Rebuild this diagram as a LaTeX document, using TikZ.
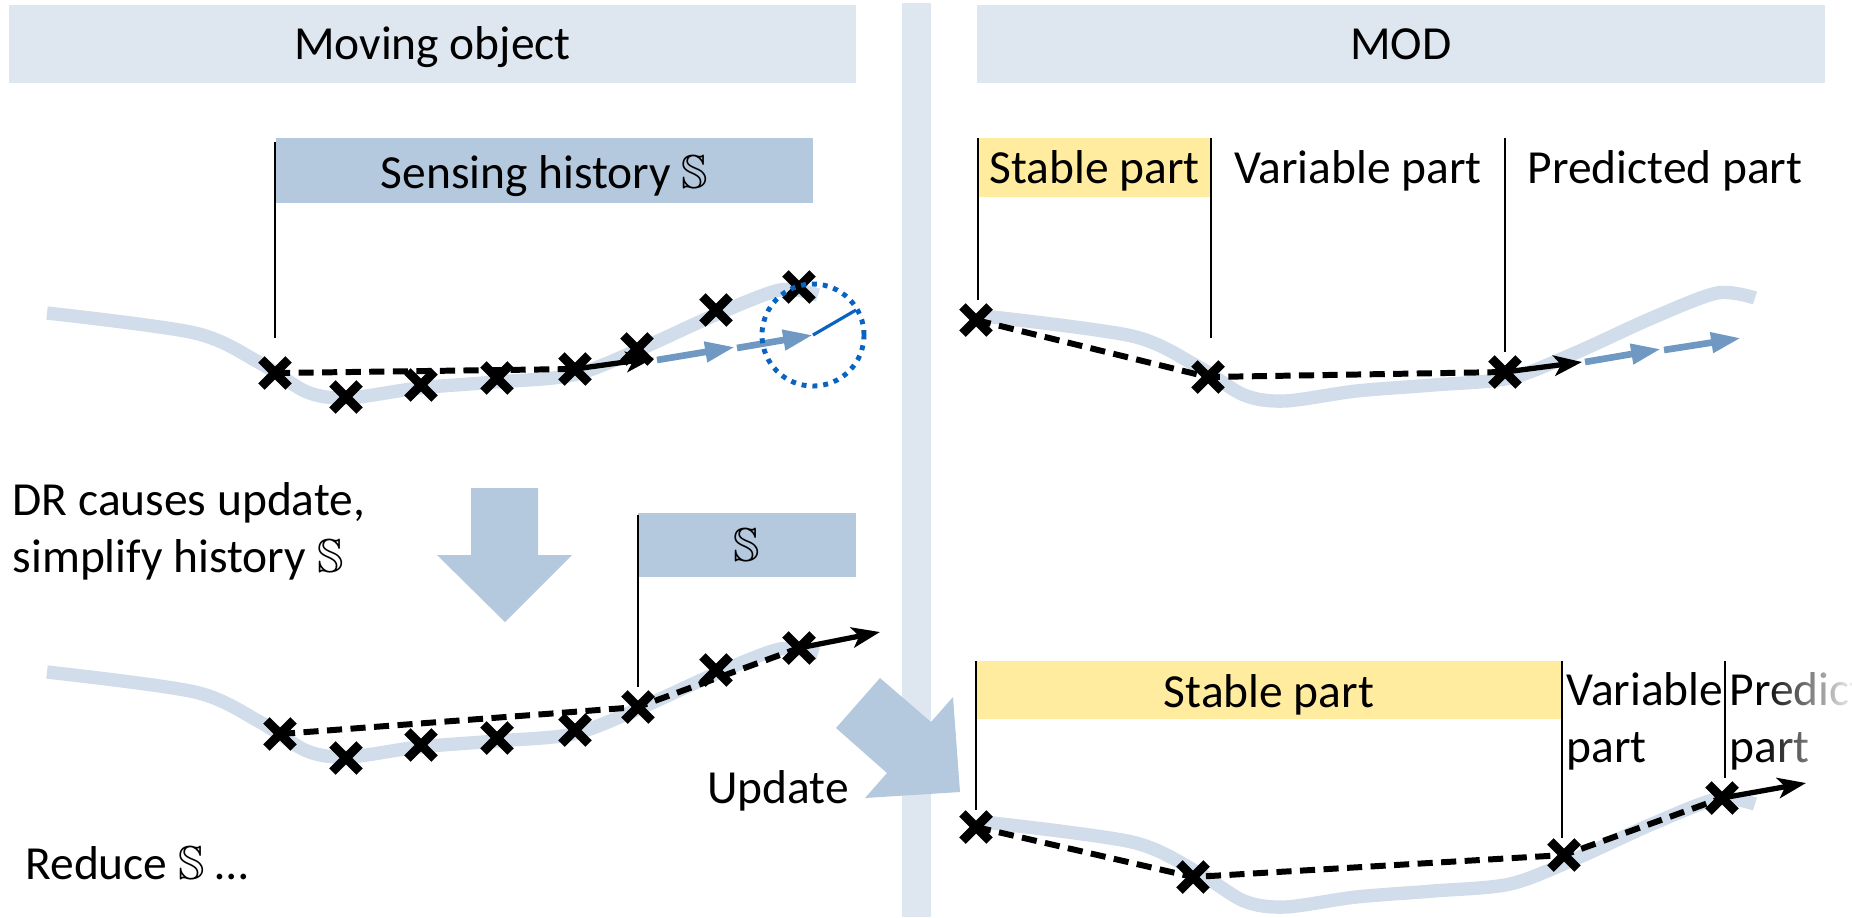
\documentclass[tikz,border=0pt]{standalone}
\usepackage{fontspec}
\usepackage{amssymb}
\setmainfont{Carlito}
\usetikzlibrary{arrows.meta,shapes.misc,fadings}

\definecolor{bandblue}{HTML}{DEE6F0}
\definecolor{boxblue}{HTML}{B4C8DE}
\definecolor{trackblue}{HTML}{D1DDEA}
\definecolor{predblue}{HTML}{6F99C3}
\definecolor{ringblue}{HTML}{0A63C1}
\definecolor{stableyellow}{HTML}{FFEC9F}

\tikzset{
    band/.style={fill=bandblue, inner sep=0pt, text height=0.54cm, text depth=0.24cm},
    histbox/.style={fill=boxblue, inner sep=0pt},
    stablebox/.style={fill=stableyellow, inner sep=0pt},
    track/.style={trackblue, line width=3.8pt},
    xmark/.style={cross out, draw=black, line width=2.6pt, minimum size=0.18cm, inner sep=0pt},
    trail/.style={black, line width=1.7pt, dash pattern=on 4.3pt off 2.4pt},
    heading/.style={black, line width=1.5pt, -{Stealth[length=8pt,width=5.8pt,inset=2pt]}},
    forecast/.style={predblue, line width=1.9pt, -{Triangle[length=8.5pt,width=5.5pt]}},
    divline/.style={black, line width=0.6pt},
    bigarrow/.style={fill=boxblue},
    multiline/.style={anchor=north west, align=left, inner sep=0pt}
}

% the trajectory of the object, shifted into place
\newcommand{\trackCurve}[2]
{
    \begin{scope}[shift={(#1,#2)}]
        \draw[track] plot[smooth] coordinates {(47,313) (195,333) (260,363)
            (307,392) (348,398) (419,388) (496,382) (573,375) (638,350)
            (715,315) (780,290) (818,295)};
    \end{scope}
}

\begin{document}
\begin{tikzpicture}[x=0.01cm, y=-0.01cm, font=\fontsize{13.5pt}{16.2pt}\selectfont]

    \useasboundingbox (0,0) rectangle (1852,917);

    %draws header bands and the divider
    \fill[bandblue] (902,3) rectangle (931,917);
    \node[band, minimum width=8.47cm] (hdrobj) at (432.5,44) {Moving object};
    \node[band, minimum width=8.48cm] (hdrmod) at (1401,44) {MOD};

    %draws history boxes
    \node[histbox, minimum width=5.37cm, text height=0.50cm, text depth=0.15cm]
        (sens) at (544.5,170.5) {Sensing history $\mathbb{S}$};
    \node[histbox, minimum width=2.18cm, text height=0.48cm, text depth=0.16cm]
        (sred) at (747,545) {$\mathbb{S}$};
    \node[stablebox, minimum width=2.33cm, text height=0.45cm, text depth=0.14cm]
        (stab1) at (1094.5,167.5) {Stable part};
    \node[stablebox, minimum width=5.86cm, text height=0.46cm, text depth=0.12cm]
        (stab2) at (1269,690) {Stable part};

    %draws trajectories
    \trackCurve{0}{0};
    \trackCurve{937}{3};
    \trackCurve{0}{359};
    \trackCurve{937}{509};

    %draws part borders
    \draw[divline] (275,142) -- (275,338);
    \draw[divline] (638,515) -- (638,687);
    \draw[divline] (978,138) -- (978,300);
    \draw[divline] (1211,138) -- (1211,338);
    \draw[divline] (1505,138) -- (1505,352);
    \draw[divline] (976,661) -- (976,810);
    \draw[divline] (1562,661) -- (1562,838);
    \draw[divline] (1725,661) -- (1725,778);

    %draws sensed positions
    \node[xmark] (a1) at (275,373) {};
    \node[xmark] (a2) at (346,397) {};
    \node[xmark] (a3) at (421,385) {};
    \node[xmark] (a4) at (497,378) {};
    \node[xmark] (a5) at (575,369) {};
    \node[xmark] (a6) at (637,349) {};
    \node[xmark] (a7) at (716,310) {};
    \node[xmark] (a8) at (799,287) {};

    \node[xmark] (b1) at (280,734) {};
    \node[xmark] (b2) at (346,758) {};
    \node[xmark] (b3) at (421,745) {};
    \node[xmark] (b4) at (497,738) {};
    \node[xmark] (b5) at (575,730) {};
    \node[xmark] (b6) at (638,707) {};
    \node[xmark] (b7) at (716,670) {};
    \node[xmark] (b8) at (799,648) {};

    \node[xmark] (c1) at (976,320) {};
    \node[xmark] (c2) at (1208,377) {};
    \node[xmark] (c3) at (1505,372) {};

    \node[xmark] (d1) at (976,827) {};
    \node[xmark] (d2) at (1193,877) {};
    \node[xmark] (d3) at (1564,855) {};
    \node[xmark] (d4) at (1722,798) {};

    %draws simplified history
    \draw[trail] (a1.center) -- (a5.center);
    \draw[trail] (b1.center) -- (b6.center) -- (b8.center);
    \draw[trail] (c1.center) -- (c2.center) -- (c3.center);
    \draw[trail] (d1.center) -- (d2.center) -- (d3.center) -- (d4.center);

    %draws current heading and prediction
    \coordinate (ahead) at (654,358);
    \coordinate (bhead) at (880,632);
    \coordinate (chead) at (1582,362);
    \coordinate (dhead) at (1806,783);
    \draw[heading] (a5.center) -- (ahead);
    \draw[heading] (b8.center) -- (bhead);
    \draw[heading] (c3.center) -- (chead);
    \draw[heading] (d4.center) -- (dhead);

    \coordinate (af1) at (657,360);
    \coordinate (af2) at (735,347);
    \coordinate (af3) at (737,348);
    \coordinate (ring) at (813,335);
    \draw[forecast] (af1) -- (af2);
    \draw[forecast] (af3) -- (ring);

    \coordinate (cf1) at (1585,362);
    \coordinate (cf2) at (1661,349);
    \coordinate (cf3) at (1664,350);
    \coordinate (cf4) at (1741,338);
    \draw[forecast] (cf1) -- (cf2);
    \draw[forecast] (cf3) -- (cf4);

    %draws dead reckoning threshold
    \coordinate (ringr) at (856,310);
    \draw[ringblue, line width=1.4pt, dash pattern=on 1.4pt off 1.7pt]
        (ring) circle[radius=0.51cm];
    \draw[ringblue, line width=0.9pt] (ring) -- (ringr);

    %draws big arrows
    \fill[bigarrow] (471,488) -- (538,488) -- (538,555) -- (572,555)
        -- (505,622) -- (437,555) -- (471,555) -- cycle;
    \fill[bigarrow] (880,678) -- (931,722) -- (953,697) -- (960,792)
        -- (865,798) -- (887,773) -- (836,728) -- cycle;

    %labels
    \node[anchor=base] (var1) at (1358,183) {Variable part};
    \node[anchor=base] (pred1) at (1665,183) {Predicted part};
    \node[multiline] (var2) at (1566,672) {Variable\\part};
    \node[multiline] (pred2) at (1729,672) {Predicted\\part};
    \fill[white, path fading=west] (1762,655) rectangle (1858,770);

    \node[multiline] (drtext) at (12,482) {DR causes update,\\simplify history $\mathbb{S}$};
    \node[anchor=base] (upd) at (778,803) {Update};
    \node[anchor=base west] (reduce) at (13,879) {Reduce $\mathbb{S}$ …};

\end{tikzpicture}
\end{document}
